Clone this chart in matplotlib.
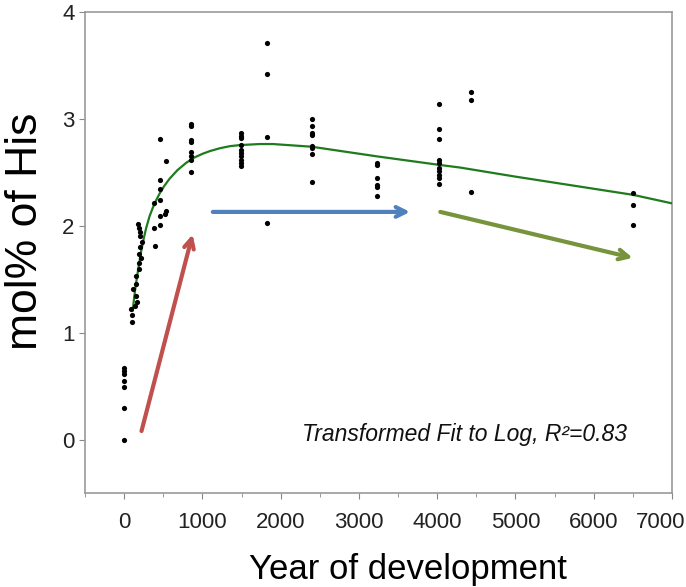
import matplotlib
matplotlib.use("Agg")
import matplotlib.pyplot as plt
from matplotlib.ticker import MultipleLocator
from matplotlib.transforms import ScaledTranslation

plt.rcParams['font.family'] = ['Liberation Sans', 'DejaVu Sans']

# измеренные точки: год развития и mol% His
years = ([0] * 7
         + [100, 100, 90, 145, 160, 150, 110, 150, 150, 195, 190, 215, 185, 200, 230, 205, 205, 185, 175]
         + [400, 388, 452, 452, 516, 529, 388, 452, 452, 452, 529, 452]
         + [850] * 8 + [1490] * 10 + [1830] * 4 + [2400] * 8 + [3230] * 6
         + [4025] * 10 + [4430] * 3 + [6500] * 3)
his = ([0.67, 0.64, 0.61, 0.55, 0.49, 0.30, 0.0]
       + [1.10, 1.17, 1.22, 1.25, 1.29, 1.34, 1.41, 1.46, 1.53, 1.60, 1.65, 1.70, 1.74, 1.80, 1.85, 1.90, 1.94, 1.98, 2.02]
       + [1.81, 1.98, 2.01, 2.09, 2.11, 2.14, 2.21, 2.24, 2.34, 2.43, 2.61, 2.81]
       + [2.95, 2.93, 2.80, 2.78, 2.69, 2.65, 2.62, 2.50]
       + [2.87, 2.84, 2.82, 2.76, 2.71, 2.68, 2.65, 2.62, 2.59, 2.56]
       + [3.71, 3.42, 2.83, 2.03]
       + [3.00, 2.93, 2.87, 2.85, 2.75, 2.73, 2.67, 2.41]
       + [2.59, 2.57, 2.45, 2.38, 2.36, 2.28]
       + [3.14, 2.91, 2.81, 2.62, 2.59, 2.54, 2.51, 2.48, 2.45, 2.39]
       + [3.25, 3.18, 2.32]
       + [2.31, 2.19, 2.01])

# кривая аппроксимации
fit_x = [110, 140, 175, 217, 250, 282, 325, 367, 410, 452, 510, 580, 680, 794, 900,
         1006, 1100, 1220, 1350, 1476, 1732, 1900, 2394, 3227, 4025, 4293, 5000, 6500, 7000]
fit_y = [1.21, 1.40, 1.57, 1.76, 1.88, 1.98, 2.09, 2.17, 2.24, 2.30, 2.37, 2.44, 2.52, 2.59, 2.64,
         2.675, 2.70, 2.725, 2.745, 2.755, 2.765, 2.765, 2.74, 2.65, 2.57, 2.545, 2.46, 2.29, 2.21]

# стрелки (начало, конец, цвет)
arrows = [((222, 0.08), (875, 1.92), '#C0504D'),
          ((1133, 2.13), (3653, 2.13), '#4F81BD'),
          ((4040, 2.13), (6498, 1.70), '#77933C')]

x_ticks = [0, 1000, 2000, 3000, 4000, 5000, 6000, 7000]
y_ticks = [0, 1, 2, 3, 4]

fig = plt.figure(figsize=(6.86, 5.87), dpi=100)
ax = fig.add_axes([0.1239, 0.1601, 0.8557, 0.8194])

ax.plot(fit_x, fit_y, color='#1E7B1E', linewidth=1.6, zorder=3)
ax.scatter(years, his, s=14, color='black', zorder=4, linewidths=0)

for start, end, col in arrows:
    ax.annotate('', xy=end, xytext=start,
                arrowprops=dict(arrowstyle='->,head_length=0.7,head_width=0.35',
                                color=col, linewidth=3, shrinkA=0, shrinkB=0))

ax.text(2270, 0.05, 'Transformed Fit to Log, R²=0.83', style='italic',
        fontsize=16.5, va='center', ha='left', color='#111111')

ax.set_xlim(-500, 7000)
ax.set_ylim(-0.5, 4)
ax.set_xticks(x_ticks)
ax.set_yticks(y_ticks)
ax.xaxis.set_minor_locator(MultipleLocator(500))
ax.tick_params(which='both', direction='out', color='#888888', labelcolor='#222222')
ax.tick_params(which='major', length=4)
ax.tick_params(which='minor', length=3)
ax.tick_params(axis='x', pad=10)
for lbl in ax.get_xticklabels() + ax.get_yticklabels():
    lbl.set_family(['Liberation Sans Narrow', 'Liberation Sans'])
    lbl.set_fontsize(16)
last = ax.get_xticklabels()[-1]
last.set_transform(last.get_transform() + ScaledTranslation(-0.11, 0, fig.dpi_scale_trans))
for sp in ax.spines.values():
    sp.set_color('#999999')
    sp.set_linewidth(1.2)

ax.set_xlabel('Year of development', fontsize=25, labelpad=14)
ax.xaxis.set_label_coords(0.55, -0.125)
ax.set_ylabel('mol% of His', fontsize=32)
ax.yaxis.set_label_coords(-0.066, 0.545)

fig.savefig('out.png', dpi=100)
